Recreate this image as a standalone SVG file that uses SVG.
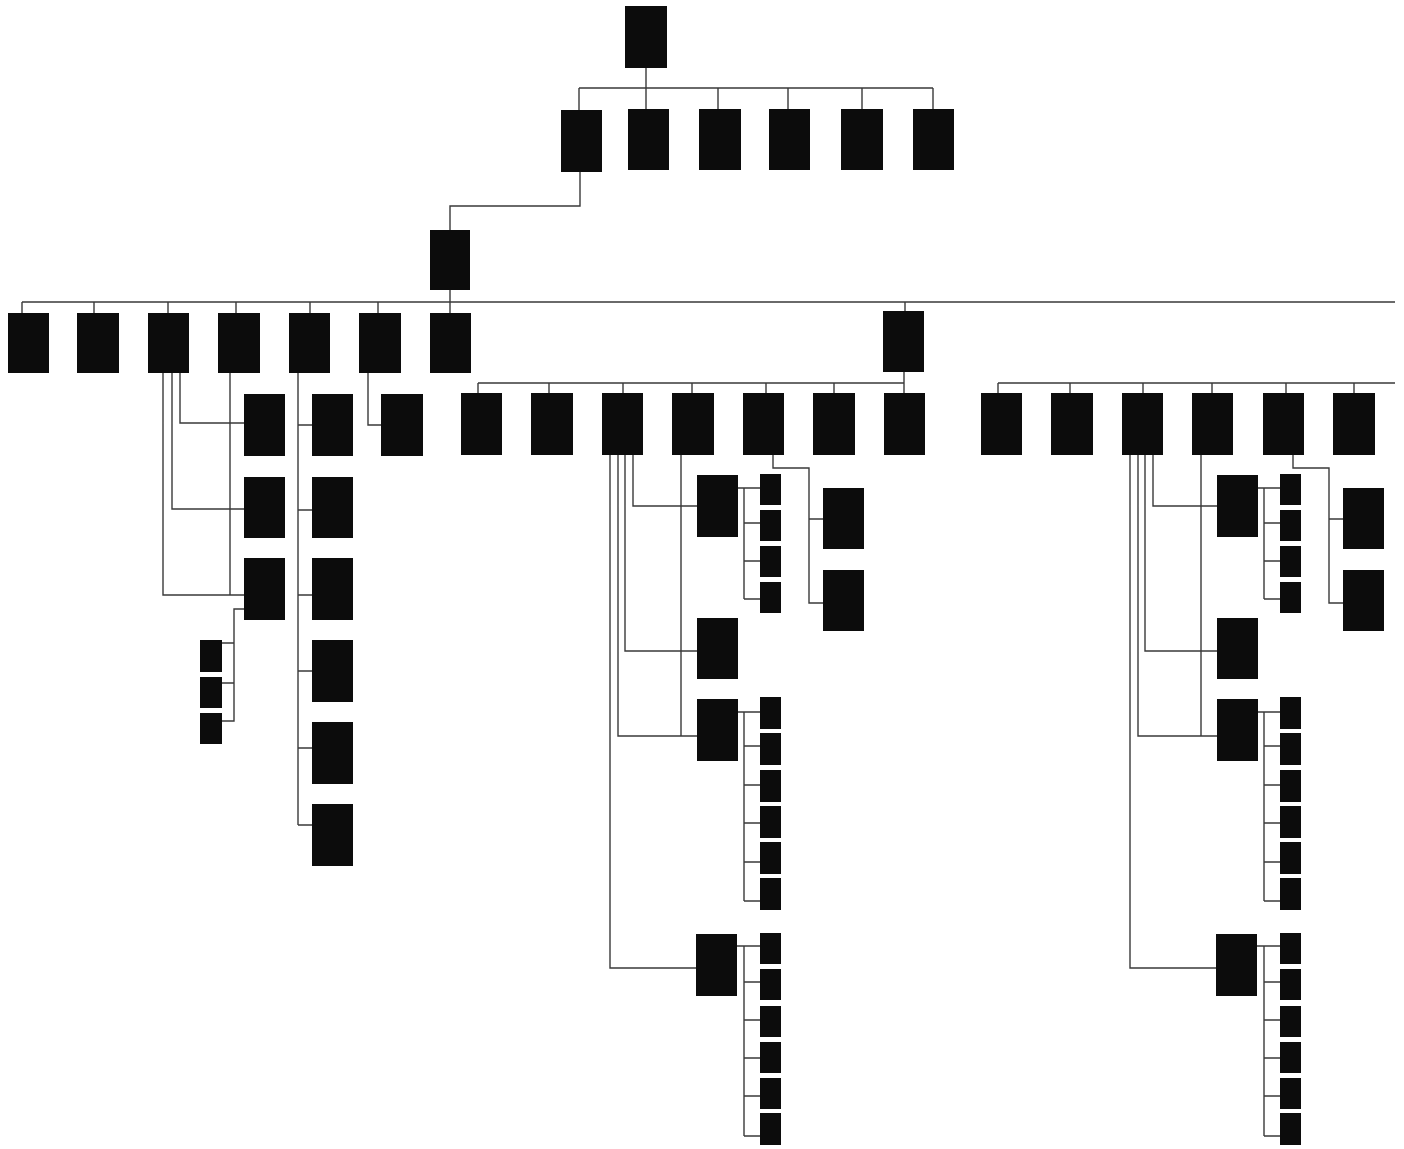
<svg xmlns="http://www.w3.org/2000/svg" width="1404" height="1149" viewBox="0 0 1404 1149">
<style>
.n rect{fill:#0c0c0c}
.c path{stroke:#3a3a3a;stroke-width:1.4;fill:none}
</style>
<rect width="1404" height="1149" fill="#fff"/>
<g class="c" id="connectors">
<path d="M646,68V109M579,88H933M579,88V110M718,88V109M788,88V109M862,88V109M933,88V109"/>
<path d="M580,172V206H450V230"/>
<path d="M450,290V313M22,302H1395M22,302V313M94,302V313M168,302V313M236,302V313M310,302V313M378,302V313M905,302V311"/>
<path d="M904,372V393M478,383H904M478,383V393M549,383V393M623,383V393M692,383V393M766,383V393M834,383V393"/>
<path d="M998,383H1395M998,383V393M1070,383V393M1143,383V393M1212,383V393M1286,383V393M1354,383V393"/>
<path d="M180,373V423H244M172,373V509H244M163,373V595H244M230,373V595"/>
<path d="M298,373V825M298,425H312M298,510H312M298,595H312M298,671H312M298,748H312M298,825H312"/>
<path d="M368,373V425H381"/>
<path d="M244,609H234V721H222M234,643H222M234,683H222"/>
<path d="M633,455V506H697M625,455V651H697M618,455V736H697M610,455V968H696M681,455V736"/>
<path d="M738,488H760M744,488V599M744,523H760M744,561H760M744,599H760"/>
<path d="M737,712H760M744,712V901M744,746H760M744,785H760M744,823H760M744,862H760M744,901H760"/>
<path d="M737,946H760M744,946V1136M744,982H760M744,1020H760M744,1058H760M744,1096H760M744,1136H760"/>
<path d="M773,455V468H809V603H823M809,519H823"/>
<path d="M1153,455V506H1217M1145,455V651H1217M1138,455V736H1217M1130,455V968H1216M1201,455V736"/>
<path d="M1258,488H1280M1264,488V599M1264,523H1280M1264,561H1280M1264,599H1280"/>
<path d="M1257,712H1280M1264,712V901M1264,746H1280M1264,785H1280M1264,823H1280M1264,862H1280M1264,901H1280"/>
<path d="M1257,946H1280M1264,946V1136M1264,982H1280M1264,1020H1280M1264,1058H1280M1264,1096H1280M1264,1136H1280"/>
<path d="M1293,455V468H1329V603H1343M1329,519H1343"/>
</g>
<g class="n">
<g id="root"><rect x="625" y="6" width="42" height="62"/></g>
<g id="a1"><rect x="561" y="110" width="41" height="62"/></g>
<g id="a2"><rect x="628" y="109" width="41" height="61"/></g>
<g id="a3"><rect x="699" y="109" width="42" height="61"/></g>
<g id="a4"><rect x="769" y="109" width="41" height="61"/></g>
<g id="a5"><rect x="841" y="109" width="42" height="61"/></g>
<g id="a6"><rect x="913" y="109" width="41" height="61"/></g>
<g id="b1"><rect x="430" y="230" width="40" height="60"/></g>
<g id="c1"><rect x="8" y="313" width="41" height="60"/></g>
<g id="c2"><rect x="77" y="313" width="42" height="60"/></g>
<g id="c3"><rect x="148" y="313" width="41" height="60"/></g>
<g id="c4"><rect x="218" y="313" width="42" height="60"/></g>
<g id="c5"><rect x="289" y="313" width="41" height="60"/></g>
<g id="c6"><rect x="359" y="313" width="42" height="60"/></g>
<g id="c7"><rect x="430" y="313" width="41" height="60"/></g>
<g id="c8"><rect x="883" y="311" width="41" height="61"/></g>
<g id="l1a"><rect x="244" y="394" width="41" height="62"/></g>
<g id="l1b"><rect x="244" y="477" width="41" height="61"/></g>
<g id="l1c"><rect x="244" y="558" width="41" height="62"/></g>
<g id="l2a"><rect x="312" y="394" width="41" height="62"/></g>
<g id="l2b"><rect x="312" y="477" width="41" height="61"/></g>
<g id="l2c"><rect x="312" y="558" width="41" height="62"/></g>
<g id="l2d"><rect x="312" y="640" width="41" height="62"/></g>
<g id="l2e"><rect x="312" y="722" width="41" height="62"/></g>
<g id="l2f"><rect x="312" y="804" width="41" height="62"/></g>
<g id="l3a"><rect x="381" y="394" width="42" height="62"/></g>
<g id="ls1"><rect x="200" y="640" width="22" height="32"/></g>
<g id="ls2"><rect x="200" y="677" width="22" height="31"/></g>
<g id="ls3"><rect x="200" y="713" width="22" height="31"/></g>
<g id="m1"><rect x="461" y="393" width="41" height="62"/></g>
<g id="m2"><rect x="531" y="393" width="42" height="62"/></g>
<g id="m3"><rect x="602" y="393" width="41" height="62"/></g>
<g id="m4"><rect x="672" y="393" width="42" height="62"/></g>
<g id="m5"><rect x="743" y="393" width="41" height="62"/></g>
<g id="m6"><rect x="813" y="393" width="42" height="62"/></g>
<g id="m7"><rect x="884" y="393" width="41" height="62"/></g>
<g id="mA"><rect x="697" y="475" width="41" height="62"/></g>
<g id="mB"><rect x="697" y="618" width="41" height="61"/></g>
<g id="mC"><rect x="697" y="699" width="41" height="62"/></g>
<g id="mD"><rect x="696" y="934" width="41" height="62"/></g>
<g id="mA1"><rect x="760" y="474" width="21" height="31"/></g>
<g id="mA2"><rect x="760" y="510" width="21" height="31"/></g>
<g id="mA3"><rect x="760" y="546" width="21" height="31"/></g>
<g id="mA4"><rect x="760" y="582" width="21" height="31"/></g>
<g id="mC1"><rect x="760" y="697" width="21" height="32"/></g>
<g id="mC2"><rect x="760" y="733" width="21" height="32"/></g>
<g id="mC3"><rect x="760" y="770" width="21" height="32"/></g>
<g id="mC4"><rect x="760" y="806" width="21" height="32"/></g>
<g id="mC5"><rect x="760" y="842" width="21" height="32"/></g>
<g id="mC6"><rect x="760" y="878" width="21" height="32"/></g>
<g id="mD1"><rect x="760" y="933" width="21" height="31"/></g>
<g id="mD2"><rect x="760" y="969" width="21" height="31"/></g>
<g id="mD3"><rect x="760" y="1006" width="21" height="31"/></g>
<g id="mD4"><rect x="760" y="1042" width="21" height="31"/></g>
<g id="mD5"><rect x="760" y="1078" width="21" height="31"/></g>
<g id="mD6"><rect x="760" y="1113" width="21" height="32"/></g>
<g id="mR1"><rect x="823" y="488" width="41" height="61"/></g>
<g id="mR2"><rect x="823" y="570" width="41" height="61"/></g>
<g id="r1"><rect x="981" y="393" width="41" height="62"/></g>
<g id="r2"><rect x="1051" y="393" width="42" height="62"/></g>
<g id="r3"><rect x="1122" y="393" width="41" height="62"/></g>
<g id="r4"><rect x="1192" y="393" width="41" height="62"/></g>
<g id="r5"><rect x="1263" y="393" width="41" height="62"/></g>
<g id="r6"><rect x="1333" y="393" width="42" height="62"/></g>
<g id="rA"><rect x="1217" y="475" width="41" height="62"/></g>
<g id="rB"><rect x="1217" y="618" width="41" height="61"/></g>
<g id="rC"><rect x="1217" y="699" width="41" height="62"/></g>
<g id="rD"><rect x="1216" y="934" width="41" height="62"/></g>
<g id="rA1"><rect x="1280" y="474" width="21" height="31"/></g>
<g id="rA2"><rect x="1280" y="510" width="21" height="31"/></g>
<g id="rA3"><rect x="1280" y="546" width="21" height="31"/></g>
<g id="rA4"><rect x="1280" y="582" width="21" height="31"/></g>
<g id="rC1"><rect x="1280" y="697" width="21" height="32"/></g>
<g id="rC2"><rect x="1280" y="733" width="21" height="32"/></g>
<g id="rC3"><rect x="1280" y="770" width="21" height="32"/></g>
<g id="rC4"><rect x="1280" y="806" width="21" height="32"/></g>
<g id="rC5"><rect x="1280" y="842" width="21" height="32"/></g>
<g id="rC6"><rect x="1280" y="878" width="21" height="32"/></g>
<g id="rD1"><rect x="1280" y="933" width="21" height="31"/></g>
<g id="rD2"><rect x="1280" y="969" width="21" height="31"/></g>
<g id="rD3"><rect x="1280" y="1006" width="21" height="31"/></g>
<g id="rD4"><rect x="1280" y="1042" width="21" height="31"/></g>
<g id="rD5"><rect x="1280" y="1078" width="21" height="31"/></g>
<g id="rD6"><rect x="1280" y="1113" width="21" height="32"/></g>
<g id="rR1"><rect x="1343" y="488" width="41" height="61"/></g>
<g id="rR2"><rect x="1343" y="570" width="41" height="61"/></g>
</g>
</svg>
